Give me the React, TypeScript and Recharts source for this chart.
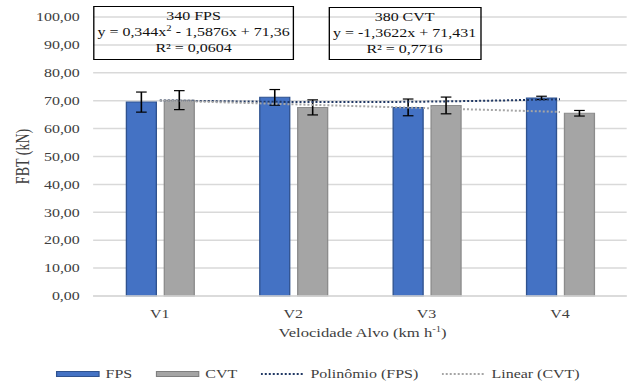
import {
  Bar,
  CartesianGrid,
  ComposedChart,
  ErrorBar,
  Label,
  Legend,
  Line,
  XAxis,
  YAxis,
} from "recharts";

const categories = ["V1", "V2", "V3", "V4"];
const fpsValues = [69.5, 71.2, 67.6, 71.0];
const cvtValues = [70.2, 67.6, 68.3, 65.5];
const fpsErrors = [3.6, 2.8, 3.0, 0.6];
const cvtErrors = [3.4, 2.7, 3.0, 1.0];
const polyFps = [70.12, 69.56, 69.67, 70.51];
const linearCvt = [70.07, 68.71, 67.34, 65.98];
const yTicks = [0, 10, 20, 30, 40, 50, 60, 70, 80, 90, 100];

const data = categories.map((name, i) => ({
  name,
  fps: fpsValues[i],
  cvt: cvtValues[i],
  errFps: fpsErrors[i],
  errCvt: cvtErrors[i],
  poly: polyFps[i],
  linear: linearCvt[i],
}));

// the reference is a horizontally stretched screenshot, so draw narrow and stretch
const STRETCH = 636 / 478;
const FONT = '"Liberation Serif", "Times New Roman", serif';
const TEXT = "#404040";

const legendItems = [
  { label: "FPS", kind: "bar", fill: "#4472C4", stroke: "#2F528F" },
  { label: "CVT", kind: "bar", fill: "#A5A5A5", stroke: "#7F7F7F" },
  { label: "Polinômio (FPS)", kind: "line", stroke: "#203864" },
  { label: "Linear (CVT)", kind: "line", stroke: "#A5A5A5" },
];

const renderLegend = () => (
  <div
    style={{
      height: 26,
      display: "flex",
      justifyContent: "center",
      alignItems: "center",
      gap: 18,
      fontFamily: FONT,
      fontSize: 12,
      color: TEXT,
    }}
  >
    {legendItems.map((it) => (
      <div key={it.label} style={{ display: "flex", alignItems: "center" }}>
        <svg width={33} height={8} style={{ marginRight: 4 }}>
          {it.kind === "bar" ? (
            <rect x={0.5} y={1.5} width={32} height={5} fill={it.fill} stroke={it.stroke} />
          ) : (
            <line x1={0} y1={4} x2={33} y2={4} stroke={it.stroke} strokeWidth={2} strokeDasharray="1.5 1.5" />
          )}
        </svg>
        <span>{it.label}</span>
      </div>
    ))}
  </div>
);

const boxStyle: React.CSSProperties = {
  position: "absolute",
  border: "1.5px solid #000",
  fontFamily: FONT,
  fontSize: 12,
  lineHeight: "16px",
  color: "#111",
  textAlign: "center",
  boxSizing: "border-box",
  paddingTop: 1,
  zIndex: 2,
};

export default function App() {
  return (
    <div
      style={{
        position: "absolute",
        left: 0,
        top: 0,
        width: 636,
        height: 387,
        overflow: "hidden",
        background: "#fff",
      }}
    >
      <div
        style={{
          position: "relative",
          width: 478,
          height: 387,
          transform: `scaleX(${STRETCH})`,
          transformOrigin: "0 0",
        }}
      >
        <ComposedChart
          width={478}
          height={387}
          data={data}
          margin={{ top: 17, right: 7, left: 0, bottom: 0 }}
          barSize={22.5}
          barGap={6}
        >
          <CartesianGrid vertical={false} stroke="#D9D9D9" strokeWidth={1.5} />
          <XAxis
            dataKey="name"
            height={65}
            tickLine={false}
            axisLine={{ stroke: "#D9D9D9", strokeWidth: 1.5 }}
            tickMargin={7}
            tick={{ fill: TEXT, fontSize: 12, fontFamily: FONT }}
          >
            <Label
              content={(props: any) => {
                const { x, y, width } = props.viewBox;
                return (
                  <text
                    x={x + width / 2 + 2}
                    y={y + 41}
                    textAnchor="middle"
                    fill={TEXT}
                    fontSize={12.5}
                    fontFamily={FONT}
                  >
                    Velocidade Alvo (km h
                    <tspan dy={-5} fontSize={8}>
                      -1
                    </tspan>
                    <tspan dy={5}>)</tspan>
                  </text>
                );
              }}
            />
          </XAxis>
          <YAxis
            width={70}
            domain={[0, 100]}
            ticks={yTicks}
            tickLine={false}
            axisLine={false}
            tickMargin={4}
            tickFormatter={(v: number) => v.toFixed(2).replace(".", ",")}
            tick={{ fill: TEXT, fontSize: 12, fontFamily: FONT }}
          >
            <Label
              content={(props: any) => {
                const { y, height } = props.viewBox;
                const cy = y + height / 2;
                return (
                  <text
                    x={17.3}
                    y={cy}
                    transform={`rotate(-90, 17.3, ${cy})`}
                    textAnchor="middle"
                    dominantBaseline="central"
                    fill={TEXT}
                    fontSize={14}
                    fontFamily={FONT}
                  >
                    FBT (kN)
                  </text>
                );
              }}
            />
          </YAxis>
          <Legend
            verticalAlign="bottom"
            height={26}
            content={renderLegend}
            wrapperStyle={{ left: 0, width: 478 }}
          />
          <Bar dataKey="fps" fill="#4472C4" stroke="#2F528F" strokeWidth={1} isAnimationActive={false}>
            <ErrorBar dataKey="errFps" width={4} stroke="#000" strokeWidth={1.2} />
          </Bar>
          <Bar dataKey="cvt" fill="#A5A5A5" stroke="#8C8C8C" strokeWidth={1} isAnimationActive={false}>
            <ErrorBar dataKey="errCvt" width={4} stroke="#000" strokeWidth={1.2} />
          </Bar>
          <Line
            dataKey="poly"
            type="natural"
            stroke="#203864"
            strokeWidth={2}
            strokeDasharray="1.5 1.5"
            dot={false}
            activeDot={false}
            isAnimationActive={false}
          />
          <Line
            dataKey="linear"
            type="linear"
            stroke="#A5A5A5"
            strokeWidth={2}
            strokeDasharray="1.5 1.5"
            dot={false}
            activeDot={false}
            isAnimationActive={false}
          />
        </ComposedChart>

        <div style={{ ...boxStyle, left: 70, top: 6, width: 151, height: 54 }}>
          <div>340 FPS</div>
          <div>
            y = 0,344x<sup style={{ fontSize: 8, lineHeight: 0 }}>2</sup> - 1,5876x + 71,36
          </div>
          <div>R² = 0,0604</div>
        </div>
        <div style={{ ...boxStyle, left: 246.6, top: 7, width: 115, height: 53 }}>
          <div>380 CVT</div>
          <div>y = -1,3622x + 71,431</div>
          <div>R² = 0,7716</div>
        </div>
      </div>
    </div>
  );
}
